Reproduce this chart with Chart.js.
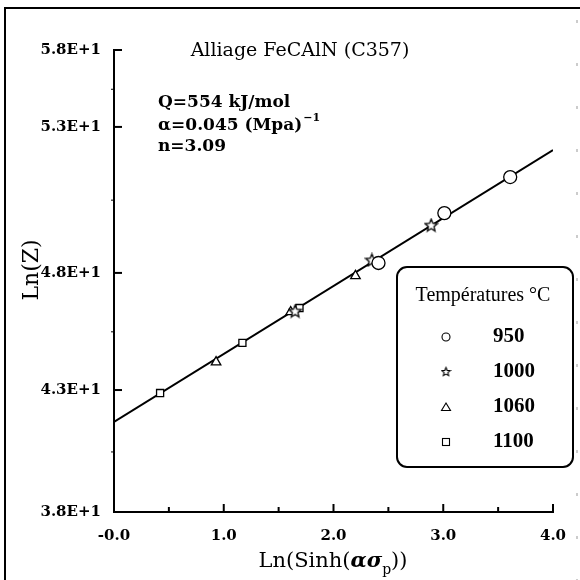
<!DOCTYPE html>
<html><head><meta charset="utf-8">
<script src="https://cdn.jsdelivr.net/npm/chart.js@4.4.0/dist/chart.umd.min.js"></script>
<style>html,body{margin:0;padding:0;background:#fff}#wrap{width:580px;height:580px;position:relative}</style>
</head><body><div id="wrap"><canvas id="c" width="580" height="580"></canvas></div>
<script>
// ---- data ----
const temperatures = ['950', '1000', '1060', '1100'];
const x950  = [2.41, 3.01, 3.61];
const y950  = [48.78, 50.94, 52.50];
const x1000 = [1.65, 2.35, 2.89];
const y1000 = [46.70, 48.91, 50.42];
const x1060 = [0.93, 1.61, 2.20];
const y1060 = [44.49, 46.66, 48.22];
const x1100 = [0.42, 1.17, 1.69];
const y1100 = [43.15, 45.32, 46.83];
const fitX = [0, 4];
const fitY = [41.90, 53.67];
const yTickValues = [38, 43.28, 48.35, 54.67, 58];
const yTickLabels = ['3.8E+1', '4.3E+1', '4.8E+1', '5.3E+1', '5.8E+1'];
const yMinorValues = [40.6, 45.8, 51.5, 56.3];
const xTickValues = [0, 1, 2, 3, 4];
const xTickLabels = ['-0.0', '1.0', '2.0', '3.0', '4.0'];
const xMinorValues = [0.5, 1.5, 2.5, 3.5];
const chartTitle = 'Alliage FeCAlN (C357)';
const noteQ = 'Q=554 kJ/mol';
const noteAlpha = ['\u03b1=0.045 (Mpa)', '\u22121'];
const noteN = 'n=3.09';
const legendTitle = 'Températures °C';

function pts(xs, ys) { return xs.map((x, i) => ({x: x, y: ys[i]})); }

function makeStar(size, lw) {
  const c = document.createElement('canvas');
  c.width = size; c.height = size;
  const g = c.getContext('2d');
  const cx = size / 2, cy = size / 2 + 0.5, R = size / 2 - 1, r = R * 0.45;
  g.beginPath();
  for (let i = 0; i < 10; i++) {
    const a = -Math.PI / 2 + i * Math.PI / 5;
    const rr = i % 2 ? r : R;
    const px = cx + rr * Math.cos(a), py = cy + rr * Math.sin(a);
    i ? g.lineTo(px, py) : g.moveTo(px, py);
  }
  g.closePath();
  g.fillStyle = '#fff'; g.fill();
  g.strokeStyle = '#000'; g.lineWidth = lw; g.stroke();
  return c;
}
const starBig = makeStar(15, 1.3);
const starSmall = makeStar(11, 1.1);

const SERIF = '"DejaVu Serif", "Liberation Serif", serif';
const TSERIF = '"Liberation Serif", serif';

const decor = {
  id: 'decor',
  afterDraw(chart) {
    const ctx = chart.ctx;
    const xs = chart.scales.x, ys = chart.scales.y;
    const L = chart.chartArea.left, B = chart.chartArea.bottom;
    ctx.save();
    // frame
    ctx.strokeStyle = '#000'; ctx.lineWidth = 2;
    ctx.beginPath(); ctx.moveTo(5, 580); ctx.lineTo(5, 8); ctx.lineTo(580, 8); ctx.stroke();
    ctx.lineWidth = 1; ctx.strokeStyle = '#999'; ctx.setLineDash([3, 40]);
    ctx.beginPath(); ctx.moveTo(577, 20); ctx.lineTo(577, 580); ctx.stroke();
    ctx.setLineDash([]);
    // inward ticks
    ctx.strokeStyle = '#000'; ctx.lineWidth = 2;
    xTickValues.forEach(v => { const p = xs.getPixelForValue(v); ctx.beginPath(); ctx.moveTo(p, B); ctx.lineTo(p, B - 8); ctx.stroke(); });
    xMinorValues.forEach(v => { const p = xs.getPixelForValue(v); ctx.beginPath(); ctx.moveTo(p, B); ctx.lineTo(p, B - 5); ctx.stroke(); });
    yTickValues.forEach(v => { const p = ys.getPixelForValue(v); ctx.beginPath(); ctx.moveTo(L, p); ctx.lineTo(L + 8, p); ctx.stroke(); });
    ctx.lineWidth = 1;
    yMinorValues.forEach(v => { const p = ys.getPixelForValue(v); ctx.beginPath(); ctx.moveTo(L, p); ctx.lineTo(L - 3, p); ctx.stroke(); });
    // title
    ctx.fillStyle = '#000';
    ctx.font = '19px ' + SERIF;
    ctx.textAlign = 'center'; ctx.textBaseline = 'middle';
    ctx.fillText(chartTitle, 300, 51);
    // notes
    ctx.font = 'bold 17px ' + SERIF;
    ctx.textAlign = 'left';
    ctx.fillText(noteQ, 158, 103);
    ctx.fillText(noteAlpha[0], 158, 126);
    const w = ctx.measureText(noteAlpha[0]).width;
    ctx.font = 'bold 11px ' + SERIF;
    ctx.fillText(noteAlpha[1], 158 + w + 1, 118);
    ctx.font = 'bold 17px ' + SERIF;
    ctx.fillText(noteN, 158, 147);
    // axis titles
    ctx.font = '22px ' + SERIF;
    ctx.save(); ctx.translate(32, 270); ctx.rotate(-Math.PI / 2);
    ctx.textAlign = 'center'; ctx.fillText('Ln(Z)', 0, 0); ctx.restore();
    ctx.textAlign = 'left';
    const p1 = 'Ln(Sinh(', p2 = '\u03b1\u03c3', p3 = 'p', p4 = '))';
    ctx.font = '21px ' + SERIF; const w1 = ctx.measureText(p1).width;
    ctx.font = 'italic bold 21px ' + SERIF; const w2 = ctx.measureText(p2).width;
    ctx.font = '14px ' + SERIF; const w3 = ctx.measureText(p3).width;
    ctx.font = '21px ' + SERIF; const w4 = ctx.measureText(p4).width;
    let x0 = 333 - (w1 + w2 + w3 + w4) / 2; const yb = 562;
    ctx.font = '21px ' + SERIF; ctx.fillText(p1, x0, yb); x0 += w1;
    ctx.font = 'italic bold 21px ' + SERIF; ctx.fillText(p2, x0, yb); x0 += w2;
    ctx.font = '14px ' + SERIF; ctx.fillText(p3, x0, yb + 8); x0 += w3;
    ctx.font = '21px ' + SERIF; ctx.fillText(p4, x0, yb);
    // legend box
    const bx = 397, by = 267, bw = 176, bh = 200, rad = 10;
    ctx.fillStyle = '#fff'; ctx.strokeStyle = '#000'; ctx.lineWidth = 2;
    ctx.beginPath(); ctx.roundRect(bx, by, bw, bh, rad); ctx.fill(); ctx.stroke();
    ctx.fillStyle = '#000';
    ctx.font = '20px ' + TSERIF; ctx.textAlign = 'center';
    ctx.fillText(legendTitle, bx + bw / 2 - 2, 296);
    ctx.font = 'bold 21px ' + TSERIF; ctx.textAlign = 'left';
    chart.data.datasets.forEach((ds, i) => {
      if (ds.legendSkip) return;
      const yy = 337 + i * 35;
      ctx.fillText(ds.label, 493, yy);
      ctx.lineWidth = 1.1; ctx.strokeStyle = '#000';
      const mx = 446;
      if (ds.pointStyle === 'circle') { ctx.beginPath(); ctx.arc(mx, yy, 4, 0, 2 * Math.PI); ctx.stroke(); }
      else if (ds.pointStyle === 'triangle') { ctx.beginPath(); ctx.moveTo(mx, yy - 4); ctx.lineTo(mx + 4.5, yy + 3.5); ctx.lineTo(mx - 4.5, yy + 3.5); ctx.closePath(); ctx.stroke(); }
      else if (ds.pointStyle === 'rect') { ctx.strokeRect(mx - 3.5, yy - 3.5, 7, 7); }
      else { ctx.drawImage(starSmall, mx - 5.5, yy - 6); }
    });
    ctx.restore();
  }
};

new Chart(document.getElementById('c'), {
  type: 'scatter',
  data: {
    datasets: [
      {label: temperatures[0], data: pts(x950, y950), pointStyle: 'circle', radius: 6.5, borderColor: '#000', backgroundColor: '#fff', borderWidth: 1.3},
      {label: temperatures[1], data: pts(x1000, y1000), pointStyle: starBig, radius: 7, borderColor: '#000', backgroundColor: '#fff'},
      {label: temperatures[2], data: pts(x1060, y1060), pointStyle: 'triangle', radius: 5.5, borderColor: '#000', backgroundColor: '#fff', borderWidth: 1.3},
      {label: temperatures[3], data: pts(x1100, y1100), pointStyle: 'rect', radius: 5, borderColor: '#000', backgroundColor: '#fff', borderWidth: 1.3},
      {label: 'fit', legendSkip: true, data: pts(fitX, fitY), showLine: true, pointRadius: 0, borderColor: '#000', borderWidth: 2, order: 10}
    ]
  },
  options: {
    animation: false, responsive: false, devicePixelRatio: 1,
    layout: {padding: {left: 0, top: 50, right: 27, bottom: 0}},
    plugins: {legend: {display: false}, tooltip: {enabled: false}},
    scales: {
      x: {
        type: 'linear', min: 0, max: 4,
        afterBuildTicks: s => { s.ticks = xTickValues.map(v => ({value: v})); },
        afterFit: s => { s.height = 68; },
        ticks: {callback: (v, i) => xTickLabels[i], color: '#000', font: {family: SERIF, size: 15, weight: 'bold'}, padding: 7, maxRotation: 0, autoSkip: false},
        grid: {display: false},
        border: {display: true, color: '#000', width: 2}
      },
      y: {
        type: 'linear', min: 38, max: 58,
        afterBuildTicks: s => { s.ticks = yTickValues.map(v => ({value: v})); },
        afterFit: s => { s.width = 114; },
        ticks: {callback: (v, i) => yTickLabels[i], color: '#000', font: {family: SERIF, size: 15, weight: 'bold'}, padding: 5, autoSkip: false},
        grid: {display: false},
        border: {display: true, color: '#000', width: 2}
      }
    }
  },
  plugins: [decor]
});
</script></body></html>
